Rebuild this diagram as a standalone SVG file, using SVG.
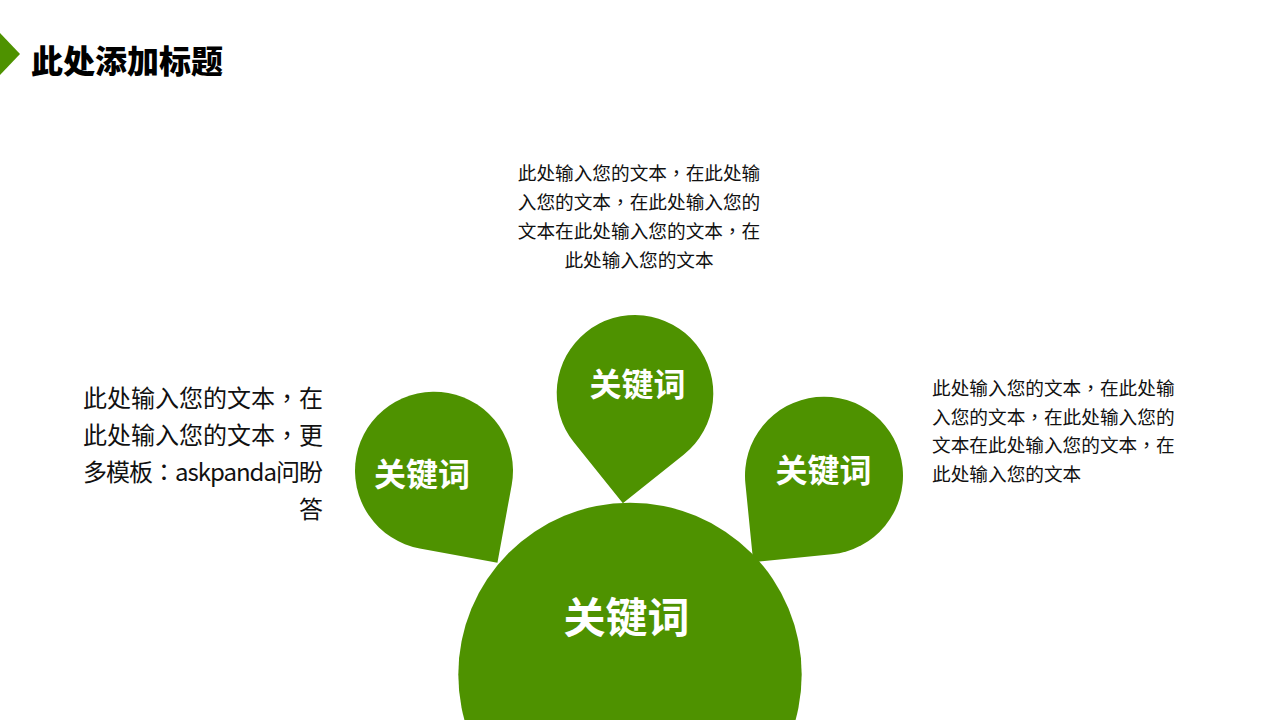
<svg xmlns="http://www.w3.org/2000/svg" width="1280" height="720" viewBox="0 0 1280 720">
  <defs>
    <style>
      .g { fill: #4e9200; }
      .title { font-family: "Noto Sans CJK SC", "Noto Sans", sans-serif; font-size: 32px; font-weight: 900; fill: #000; }
      .kw { font-family: "Noto Sans CJK SC", "Noto Sans", sans-serif; font-weight: 700; fill: #fff; text-anchor: middle; }
      .body { font-family: "Noto Sans CJK SC", "Noto Sans", sans-serif; fill: #111; }
      .p { font-family: "Noto Sans CJK TC", "Noto Sans CJK SC", sans-serif; }
    </style>
  </defs>
  <rect width="1280" height="720" fill="#ffffff"/>

  <g id="title">
    <polygon class="g" points="-2,31 20,54 -2,77"/>
    <text class="title" x="31" y="73">此处添加标题</text>
  </g>

  <g id="node-left">
    <path class="g" transform="translate(434,470.7) rotate(10.4)" d="M79,0 L79,79 L0,79 A79,79 0 1 1 79,0 Z"/>
    <text class="kw" x="422" y="486" font-size="32">关键词</text>
  </g>

  <g id="node-top">
    <path class="g" transform="translate(635,393.3) rotate(51.3)" d="M78.3,0 L78.3,78.3 L0,78.3 A78.3,78.3 0 1 1 78.3,0 Z"/>
    <text class="kw" x="637.5" y="396" font-size="32">关键词</text>
  </g>

  <g id="node-right">
    <path class="g" transform="translate(824,475.7) rotate(84.3)" d="M79,0 L79,79 L0,79 A79,79 0 1 1 79,0 Z"/>
    <text class="kw" x="823.5" y="482" font-size="32">关键词</text>
  </g>

  <g id="node-center">
    <circle class="g" cx="630" cy="674.4" r="171.7"/>
    <text class="kw" x="626.5" y="633" font-size="42">关键词</text>
  </g>

  <g id="text-top" class="body" font-size="18.67" text-anchor="middle">
    <text x="639" y="180">此处输入您的文本<tspan class="p">，</tspan>在此处输</text>
    <text x="639" y="209">入您的文本<tspan class="p">，</tspan>在此处输入您的</text>
    <text x="639" y="238">文本在此处输入您的文本<tspan class="p">，</tspan>在</text>
    <text x="639" y="267">此处输入您的文本</text>
  </g>

  <g id="text-right" class="body" font-size="18.67">
    <text x="932" y="395">此处输入您的文本<tspan class="p">，</tspan>在此处输</text>
    <text x="932" y="423.5">入您的文本<tspan class="p">，</tspan>在此处输入您的</text>
    <text x="932" y="452">文本在此处输入您的文本<tspan class="p">，</tspan>在</text>
    <text x="932" y="480.5">此处输入您的文本</text>
  </g>

  <g id="text-left" class="body" font-size="24" text-anchor="end">
    <text x="323" y="406.5">此处输入您的文本<tspan class="p">，</tspan>在</text>
    <text x="323" y="443.5">此处输入您的文本<tspan class="p">，</tspan>更</text>
    <text x="323" y="481" textLength="240" lengthAdjust="spacing">多模板<tspan class="p">：</tspan>askpanda问盼</text>
    <text x="323" y="518">答</text>
  </g>

  <g id="connectors"></g>
</svg>
